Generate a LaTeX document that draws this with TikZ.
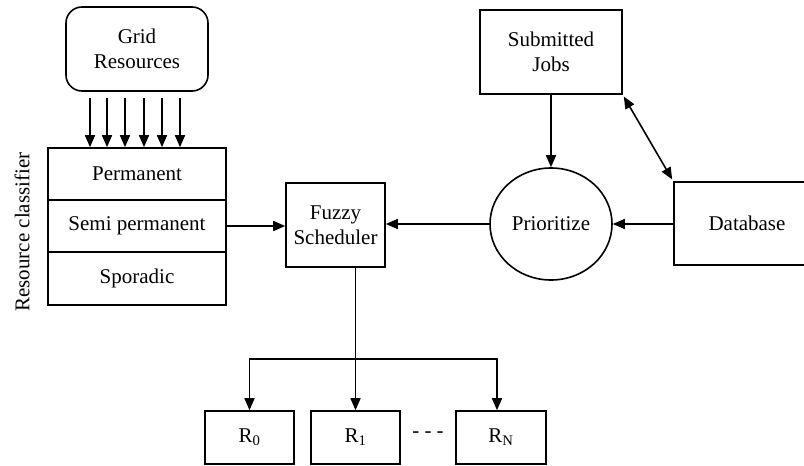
\documentclass[tikz,border=0pt]{standalone}
\usepackage{fontspec}
\setmainfont{Liberation Serif}
\usetikzlibrary{arrows.meta,shapes.geometric}

\tikzset{
  blk/.style={draw,line width=1.6pt,inner sep=0pt,align=center,
    font=\fontsize{21}{25}\selectfont},
  arr/.style={line width=1.6pt,-{Triangle[length=12pt,width=10pt]}},
  ln/.style={line width=1.6pt}
}

\begin{document}
\begin{tikzpicture}[x=1pt,y=-1pt]
        \useasboundingbox (0,0) rectangle (804,466);
        %% Resources and classifier
        \node[blk,rounded corners=16pt,minimum width=142pt,minimum height=84pt] (grid) at (137,49) {Grid\\Resources};
        \node[blk,minimum width=178pt,minimum height=52pt] (perm) at (137,174) {Permanent};
        \node[blk,minimum width=178pt,minimum height=52pt] (semi) at (137,226) {Semi permanent};
        \node[blk,minimum width=178pt,minimum height=53pt] (spor) at (137,278.5) {Sporadic};
        \node[font=\fontsize{21}{25}\selectfont,rotate=90] (classlbl) at (22,232) {Resource classifier};
        \foreach \x in {90,107,125,144,162,180}
            \draw[arr] (\x,98) -- (\x,0 |- perm.north);
        %% Scheduler and jobs
        \node[blk,minimum width=99pt,minimum height=84pt] (sched) at (335.5,225) {Fuzzy\\Scheduler};
        \node[blk,minimum width=142pt,minimum height=84pt] (jobs) at (551,52) {Submitted\\Jobs};
        \node[blk,ellipse,minimum width=122pt,minimum height=112pt] (prio) at (551,224) {Prioritize};
        \node[blk,minimum width=146pt,minimum height=83pt] (db) at (747,223.5) {Database};
        \draw[arr] (semi.east) -- (semi.east -| sched.west);
        \draw[arr] (prio.west) -- (prio.west -| sched.east);
        \draw[arr] (db.west |- prio.east) -- (prio.east);
        \draw[arr] (jobs.south) -- (prio.north);
        \draw[line width=1.6pt,{Triangle[length=12pt,width=10pt]}-{Triangle[length=12pt,width=10pt]},shorten <=2pt,shorten >=2pt] (jobs.south east) -- (db.north west);
        %% Resource slots
        \node[blk,minimum width=89pt,minimum height=53pt] (r0) at (249.5,437.5) {R\textsubscript{0}};
        \node[blk,minimum width=89pt,minimum height=53pt] (r1) at (355.5,437.5) {R\textsubscript{1}};
        \node[blk,minimum width=90pt,minimum height=53pt] (rn) at (501,437.5) {R\textsubscript{N}};
        \node[font=\fontsize{21}{25}\selectfont] (gap) at (428,435) {- - -};
        \coordinate (split) at (355.5,359);
        \draw[ln] (sched.south -| r1.north) -- (split);
        \draw[arr] (split) -- (r1.north);
        \draw[arr] (split) -| (r0.north);
        \draw[arr] (split) -| ([xshift=-4pt]rn.north);
\end{tikzpicture}
\end{document}
